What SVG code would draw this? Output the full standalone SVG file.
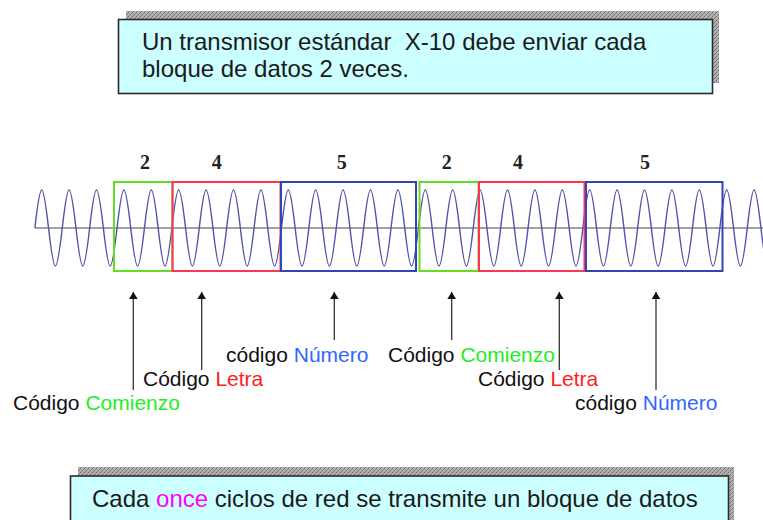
<svg xmlns="http://www.w3.org/2000/svg" width="763" height="520" viewBox="0 0 763 520">
<style>
.note{fill:#ccffff;stroke:#2a2a2a;stroke-width:1.6}
.shadow{fill:url(#hatch)}
.nt{font-family:"Liberation Sans",Arial,sans-serif;font-size:24px;fill:#1a1a1a;white-space:pre}
.lbl{font-family:"Liberation Sans",Arial,sans-serif;font-size:21px;fill:#111}
.num{font-family:"Liberation Serif","Times New Roman",serif;font-size:20px;font-weight:bold;fill:#222;text-anchor:middle}
.seg{fill:none;stroke-width:2}
.g{stroke:#66dd22}.r{stroke:#ff3355}.b{stroke:#3344bb}
.cg{fill:#22ee22}.cr{fill:#ff2020}.cb{fill:#3366ff}.cm{fill:#ff00ff}
.arr{stroke:#333;stroke-width:1.3;fill:none;marker-end:url(#ah)}
</style>
<defs>
<pattern id="hatch" width="4" height="4" patternUnits="userSpaceOnUse">
<rect width="4" height="4" fill="#b0b0b0"/>
<rect x="0" y="0" width="1" height="1" fill="#6a6a6a"/>
<rect x="2" y="2" width="1" height="1" fill="#6a6a6a"/>
<rect x="1" y="3" width="1" height="1" fill="#888"/>
<rect x="3" y="1" width="1" height="1" fill="#888"/>
</pattern>
<marker id="ah" viewBox="0 0 8 10" refX="8" refY="5" markerWidth="7" markerHeight="9" markerUnits="userSpaceOnUse" orient="auto">
<path d="M0,0 L8,5 L0,10 z" fill="#111"/>
</marker>
</defs>

<g id="note-top">
<rect class="shadow" x="126" y="11" width="593" height="72"/>
<rect class="note" x="118.5" y="19.5" width="594" height="74"/>
<text class="nt" x="142" y="50">Un transmisor estándar  X-10 debe enviar cada</text>
<text class="nt" x="142" y="77">bloque de datos 2 veces.</text>
</g>

<g id="signal">
<line x1="35" y1="228" x2="763" y2="228" stroke="#444" stroke-width="1"/>
<path fill="none" stroke="#5252aa" stroke-width="1.4" d="M34.85 228 c5.81 -50.67 7.89 -50.67 13.7 0 s7.89 50.67 13.7 0 s7.89 -50.67 13.7 0 s7.89 50.67 13.7 0 s7.89 -50.67 13.7 0 s7.89 50.67 13.7 0 s7.89 -50.67 13.7 0 s7.89 50.67 13.7 0 s7.89 -50.67 13.7 0 s7.89 50.67 13.7 0 s7.89 -50.67 13.7 0 s7.89 50.67 13.7 0 s7.89 -50.67 13.7 0 s7.89 50.67 13.7 0 s7.89 -50.67 13.7 0 s7.89 50.67 13.7 0 s7.89 -50.67 13.7 0 s7.89 50.67 13.7 0 s7.89 -50.67 13.7 0 s7.89 50.67 13.7 0 s7.89 -50.67 13.7 0 s7.89 50.67 13.7 0 s7.89 -50.67 13.7 0 s7.89 50.67 13.7 0 s7.89 -50.67 13.7 0 s7.89 50.67 13.7 0 s7.89 -50.67 13.7 0 s7.89 50.67 13.7 0 s7.89 -50.67 13.7 0 s7.89 50.67 13.7 0 s7.89 -50.67 13.7 0 s7.89 50.67 13.7 0 s7.89 -50.67 13.7 0 s7.89 50.67 13.7 0 s7.89 -50.67 13.7 0 s7.89 50.67 13.7 0 s7.89 -50.67 13.7 0 s7.89 50.67 13.7 0 s7.89 -50.67 13.7 0 s7.89 50.67 13.7 0 s7.89 -50.67 13.7 0 s7.89 50.67 13.7 0 s7.89 -50.67 13.7 0 s7.89 50.67 13.7 0 s7.89 -50.67 13.7 0 s7.89 50.67 13.7 0 s7.89 -50.67 13.7 0 s7.89 50.67 13.7 0 s7.89 -50.67 13.7 0 s7.89 50.67 13.7 0 s7.89 -50.67 13.7 0 s7.89 50.67 13.7 0 s7.89 -50.67 13.7 0 s7.89 50.67 13.7 0"/>
</g>

<g id="seg-start-1"><rect class="seg g" x="114" y="182" width="58.5" height="89"/><text class="num" x="145" y="169">2</text></g>
<g id="seg-letra-1"><rect class="seg r" x="172.5" y="182" width="108" height="89"/><text class="num" x="216.7" y="169">4</text></g>
<g id="seg-numero-1"><rect class="seg b" x="281" y="182" width="135" height="89"/><text class="num" x="341.7" y="169">5</text></g>
<g id="seg-start-2"><rect class="seg g" x="419.5" y="182" width="59" height="89"/><text class="num" x="446.7" y="169">2</text></g>
<g id="seg-letra-2"><rect class="seg r" x="479" y="182" width="105.5" height="89"/><text class="num" x="518" y="169">4</text></g>
<g id="seg-numero-2"><rect class="seg b" x="586" y="182" width="136.5" height="89"/><text class="num" x="645" y="169">5</text></g>

<g id="connectors">
<line class="arr" x1="133.3" y1="390" x2="133.3" y2="292"/>
<line class="arr" x1="201.7" y1="370" x2="201.7" y2="292"/>
<line class="arr" x1="334.3" y1="340" x2="334.3" y2="292"/>
<line class="arr" x1="451.7" y1="340" x2="451.7" y2="292"/>
<line class="arr" x1="559.3" y1="370" x2="559.3" y2="292"/>
<line class="arr" x1="656" y1="390" x2="656" y2="292"/>
</g>

<g id="label-comienzo-1"><text class="lbl" x="13" y="410">Código <tspan class="cg">Comienzo</tspan></text></g>
<g id="label-letra-1"><text class="lbl" x="143" y="386">Código <tspan class="cr">Letra</tspan></text></g>
<g id="label-numero-1"><text class="lbl" x="226" y="362">código <tspan class="cb">Número</tspan></text></g>
<g id="label-comienzo-2"><text class="lbl" x="388" y="362">Código <tspan class="cg">Comienzo</tspan></text></g>
<g id="label-letra-2"><text class="lbl" x="478" y="386">Código <tspan class="cr">Letra</tspan></text></g>
<g id="label-numero-2"><text class="lbl" x="575" y="410">código <tspan class="cb">Número</tspan></text></g>

<g id="note-bottom">
<rect class="shadow" x="78" y="467" width="656" height="60"/>
<rect class="note" x="70.5" y="476" width="658" height="60"/>
<text class="nt" x="92" y="506.5">Cada <tspan class="cm">once</tspan> ciclos de red se transmite un bloque de datos</text>
</g>
</svg>
